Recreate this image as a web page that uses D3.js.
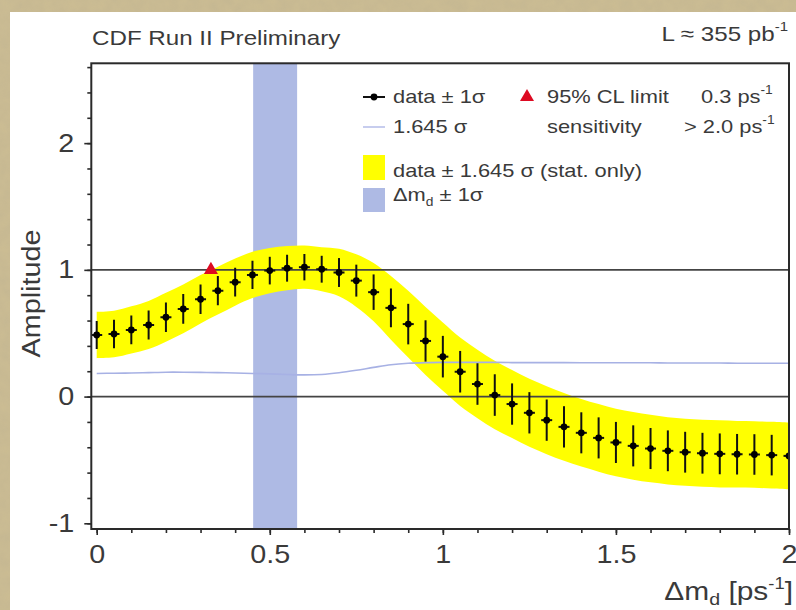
<!DOCTYPE html>
<html>
<head>
<meta charset="utf-8">
<script src="https://cdn.jsdelivr.net/npm/d3@7"></script>
<style>
  html, body { margin: 0; padding: 0; background: #c4b48b; }
  svg { display: block; }
  text { font-family: "Liberation Sans", Arial, Helvetica, sans-serif; fill: #3a3a3a; }
</style>
</head>
<body>
<svg id="chart" width="796" height="610"></svg>
<script>
// Amplitude scan: oscillation frequency points (ps^-1)
const massValues = [0.00, 0.05, 0.10, 0.15, 0.20, 0.25, 0.30, 0.35, 0.40, 0.45,
                    0.50, 0.55, 0.60, 0.65, 0.70, 0.75, 0.80, 0.85, 0.90, 0.95,
                    1.00, 1.05, 1.10, 1.15, 1.20, 1.25, 1.30, 1.35, 1.40, 1.45,
                    1.50, 1.55, 1.60, 1.65, 1.70, 1.75, 1.80, 1.85, 1.90, 1.95, 2.00];
// Fitted amplitude at each point
const amplitudes = [0.486, 0.494, 0.526, 0.565, 0.626, 0.692, 0.768, 0.836, 0.903, 0.960,
                    0.994, 1.013, 1.021, 1.005, 0.979, 0.915, 0.824, 0.700, 0.572, 0.439,
                    0.315, 0.196, 0.099, 0.012, -0.059, -0.128, -0.186, -0.239, -0.286, -0.326,
                    -0.362, -0.389, -0.410, -0.428, -0.439, -0.447, -0.452, -0.455, -0.457, -0.462, -0.468];
// Statistical uncertainty (1 sigma) at each point
const sigmas = [0.111, 0.112, 0.113, 0.115, 0.117, 0.117, 0.116, 0.115, 0.113, 0.111,
                0.109, 0.106, 0.104, 0.106, 0.114, 0.126, 0.140, 0.153, 0.160, 0.163,
                0.164, 0.164, 0.164, 0.164, 0.163, 0.163, 0.163, 0.163, 0.162, 0.162,
                0.162, 0.162, 0.162, 0.161, 0.161, 0.161, 0.161, 0.160, 0.160, 0.160, 0.160];
const clFactor = 1.645;
// Measured oscillation frequency band (lower, upper)
const massBand = [0.452, 0.579];
// 95% CL limit position
const limitMass = 0.33;
const limitAmplitude = 1.0;
const sensitivityText = "> 2.0";
// Reference amplitude levels drawn as horizontal lines
const refLevels = [0, 1];
// Axis tick labels
const xTickLabels = [0, 0.5, 1, 1.5, 2];
const yTickLabels = [-1, 0, 1, 2];

const points = massValues.map((m, i) => ({ m, a: amplitudes[i], s: sigmas[i] }));

const svg = d3.select("#chart");
const W = 796, H = 610;
const STRETCH = 1.15;

// Paper texture backdrop
const defs = svg.append("defs");
const grain = defs.append("filter").attr("id", "grain").attr("x", 0).attr("y", 0).attr("width", "100%").attr("height", "100%");
grain.append("feTurbulence").attr("type", "fractalNoise").attr("baseFrequency", 0.09).attr("numOctaves", 3).attr("seed", 4);
grain.append("feColorMatrix").attr("type", "matrix")
  .attr("values", "0 0 0 0 0.45  0 0 0 0 0.40  0 0 0 0 0.28  0 0 0 0.55 -0.1");
svg.append("rect").attr("width", W).attr("height", H).attr("fill", "#cbbc93");
svg.append("rect").attr("width", W).attr("height", H).attr("filter", "url(#grain)").attr("opacity", 0.55);

// White page
svg.append("rect").attr("x", 10).attr("y", 12).attr("width", W).attr("height", H).attr("fill", "#ffffff");

const plot = { left: 91.3, right: 789, top: 63.3, bottom: 529 };
const x = d3.scaleLinear().domain([-0.0156, 2.0]).range([plot.left, plot.right]);
const y = d3.scaleLinear().domain([-1.045, 2.63]).range([plot.bottom, plot.top]);

defs.append("clipPath").attr("id", "plotClip").append("rect")
  .attr("x", plot.left).attr("y", plot.top)
  .attr("width", plot.right - plot.left).attr("height", plot.bottom - plot.top);

const g = svg.append("g").attr("clip-path", "url(#plotClip)");

// Measured frequency band
g.append("rect")
  .attr("x", x(massBand[0])).attr("width", x(massBand[1]) - x(massBand[0]))
  .attr("y", plot.top).attr("height", plot.bottom - plot.top)
  .attr("fill", "#aebae4");

// data ± 1.645 sigma band
const band = d3.area().curve(d3.curveCatmullRom)
  .x(d => x(d.m)).y0(d => y(d.a - clFactor * d.s)).y1(d => y(d.a + clFactor * d.s));
g.append("path").datum(points).attr("d", band).attr("fill", "#ffff00");

// Reference lines at amplitude 0 and 1
g.selectAll("line.ref").data(refLevels).join("line").attr("class", "ref")
  .attr("x1", plot.left).attr("x2", plot.right)
  .attr("y1", d => y(d)).attr("y2", d => y(d))
  .attr("stroke", "#444").attr("stroke-width", 1.6);

// Sensitivity curve 1.645 sigma
const sens = d3.line().curve(d3.curveCatmullRom).x(d => x(d.m)).y(d => y(clFactor * d.s));
g.append("path").datum(points).attr("d", sens)
  .attr("fill", "none").attr("stroke", "#a7b1e4").attr("stroke-width", 1.6);

// Error bars and markers
const pts = g.append("g").selectAll("g").data(points).join("g");
pts.append("line")
  .attr("x1", d => x(d.m)).attr("x2", d => x(d.m))
  .attr("y1", d => y(d.a - d.s)).attr("y2", d => y(d.a + d.s))
  .attr("stroke", "#111").attr("stroke-width", 2);
pts.append("line")
  .attr("x1", d => x(d.m) - 5.5).attr("x2", d => x(d.m) + 5.5)
  .attr("y1", d => y(d.a)).attr("y2", d => y(d.a))
  .attr("stroke", "#111").attr("stroke-width", 2);
pts.append("circle").attr("cx", d => x(d.m)).attr("cy", d => y(d.a)).attr("r", 3.4).attr("fill", "#000");

// Limit triangle
const tri = d3.symbol().type(d3.symbolTriangle).size(85);
svg.append("path").attr("d", tri)
  .attr("transform", `translate(${x(limitMass)},${y(limitAmplitude)})`)
  .attr("fill", "#dd0a22");

// Frame
svg.append("rect")
  .attr("x", plot.left).attr("y", plot.top)
  .attr("width", plot.right - plot.left).attr("height", plot.bottom - plot.top)
  .attr("fill", "none").attr("stroke", "#2a2a2a").attr("stroke-width", 2);

// Axes: minor ticks
const xMinor = d3.range(0, 2.0001, 0.1);
const yMinor = d3.range(-1, 2.61, 0.2);
const axisStyle = sel => {
  sel.select(".domain").remove();
  sel.selectAll(".tick line").attr("stroke", "#2a2a2a").attr("stroke-width", 1.6);
};
svg.append("g").attr("transform", `translate(0,${plot.bottom})`)
  .call(d3.axisBottom(x).tickValues(xMinor).tickSize(4).tickFormat(""))
  .call(axisStyle);
svg.append("g").attr("transform", `translate(${plot.left},0)`)
  .call(d3.axisLeft(y).tickValues(yMinor).tickSize(4).tickFormat(""))
  .call(axisStyle);

// Axes: labelled ticks
const xAxis = svg.append("g").attr("transform", `translate(0,${plot.bottom})`)
  .call(d3.axisBottom(x).tickValues(xTickLabels).tickSize(6).tickPadding(10).tickFormat(d => String(d)))
  .call(axisStyle);
const yAxis = svg.append("g").attr("transform", `translate(${plot.left},0)`)
  .call(d3.axisLeft(y).tickValues(yTickLabels).tickSize(7).tickPadding(10).tickFormat(d => String(d)))
  .call(axisStyle);
[xAxis, yAxis].forEach(a => a.selectAll(".tick text")
  .attr("font-family", "Liberation Sans, Arial, sans-serif")
  .attr("font-size", 25).attr("fill", "#3a3a3a").classed("wide", true));

// Header texts
svg.append("text").attr("class", "wide").attr("x", 92).attr("y", 45)
  .attr("font-size", 21).text("CDF Run II Preliminary");
const lumi = svg.append("text").attr("class", "wide").attr("x", 788).attr("y", 41)
  .attr("text-anchor", "end").attr("font-size", 21);
lumi.append("tspan").text("L \u2248 355 pb");
lumi.append("tspan").attr("font-size", 13).attr("dy", -10).text("-1");

// Axis titles
svg.append("text").attr("class", "wide")
  .attr("transform", "translate(40,293.5) rotate(-90)")
  .attr("text-anchor", "middle").attr("font-size", 25).text("Amplitude");
const xTitle = svg.append("text").attr("class", "wide").attr("x", 793).attr("y", 600)
  .attr("text-anchor", "end").attr("font-size", 26);
xTitle.append("tspan").text("\u0394m");
xTitle.append("tspan").attr("font-size", 17).attr("dy", 5).text("d");
xTitle.append("tspan").attr("dy", -5).text(" [ps");
xTitle.append("tspan").attr("font-size", 16).attr("dy", -11).text("-1");
xTitle.append("tspan").attr("dy", 11).text("]");

// Legend
const lg = svg.append("g");
const LF = 19;
// row 1
lg.append("line").attr("x1", 363).attr("x2", 385).attr("y1", 97).attr("y2", 97).attr("stroke", "#111").attr("stroke-width", 2);
lg.append("circle").attr("cx", 374).attr("cy", 97).attr("r", 3.4).attr("fill", "#000");
lg.append("text").attr("class", "wide").attr("x", 393).attr("y", 103).attr("font-size", LF).text("data \u00b1 1\u03c3");
lg.append("path").attr("d", tri).attr("transform", "translate(527,97)").attr("fill", "#dd0a22");
lg.append("text").attr("class", "wide").attr("x", 547).attr("y", 103).attr("font-size", LF).text("95% CL limit");
const lim = lg.append("text").attr("class", "wide").attr("x", 701).attr("y", 103).attr("font-size", LF);
lim.append("tspan").text(`${limitMass.toFixed(1)} ps`);
lim.append("tspan").attr("font-size", 12).attr("dy", -9).text("-1");
// row 2
lg.append("line").attr("x1", 363).attr("x2", 385).attr("y1", 127).attr("y2", 127).attr("stroke", "#b9c1ea").attr("stroke-width", 1.6);
lg.append("text").attr("class", "wide").attr("x", 393).attr("y", 133).attr("font-size", LF).text(`${clFactor} \u03c3`);
lg.append("text").attr("class", "wide").attr("x", 547).attr("y", 133).attr("font-size", LF).text("sensitivity");
const sensT = lg.append("text").attr("class", "wide").attr("x", 684).attr("y", 133).attr("font-size", LF);
sensT.append("tspan").text(`${sensitivityText} ps`);
sensT.append("tspan").attr("font-size", 12).attr("dy", -9).text("-1");
// row 3
lg.append("rect").attr("x", 363).attr("y", 155).attr("width", 22).attr("height", 25).attr("fill", "#ffff00");
lg.append("text").attr("class", "wide").attr("x", 393).attr("y", 177).attr("font-size", LF)
  .text(`data \u00b1 ${clFactor} \u03c3 (stat. only)`);
// row 4
lg.append("rect").attr("x", 363).attr("y", 188).attr("width", 22).attr("height", 24).attr("fill", "#aebae4");
const mt = lg.append("text").attr("class", "wide").attr("x", 393).attr("y", 201).attr("font-size", LF);
mt.append("tspan").text("\u0394m");
mt.append("tspan").attr("font-size", 12).attr("dy", 5).text("d");
mt.append("tspan").attr("dy", -5).text(" \u00b1 1\u03c3");

// Widen the lettering slightly, as in the original typesetting
svg.selectAll("text.wide").each(function () {
  const len = this.getComputedTextLength();
  if (len > 0) {
    d3.select(this).attr("textLength", len * STRETCH).attr("lengthAdjust", "spacingAndGlyphs");
  }
});
</script>
</body>
</html>
